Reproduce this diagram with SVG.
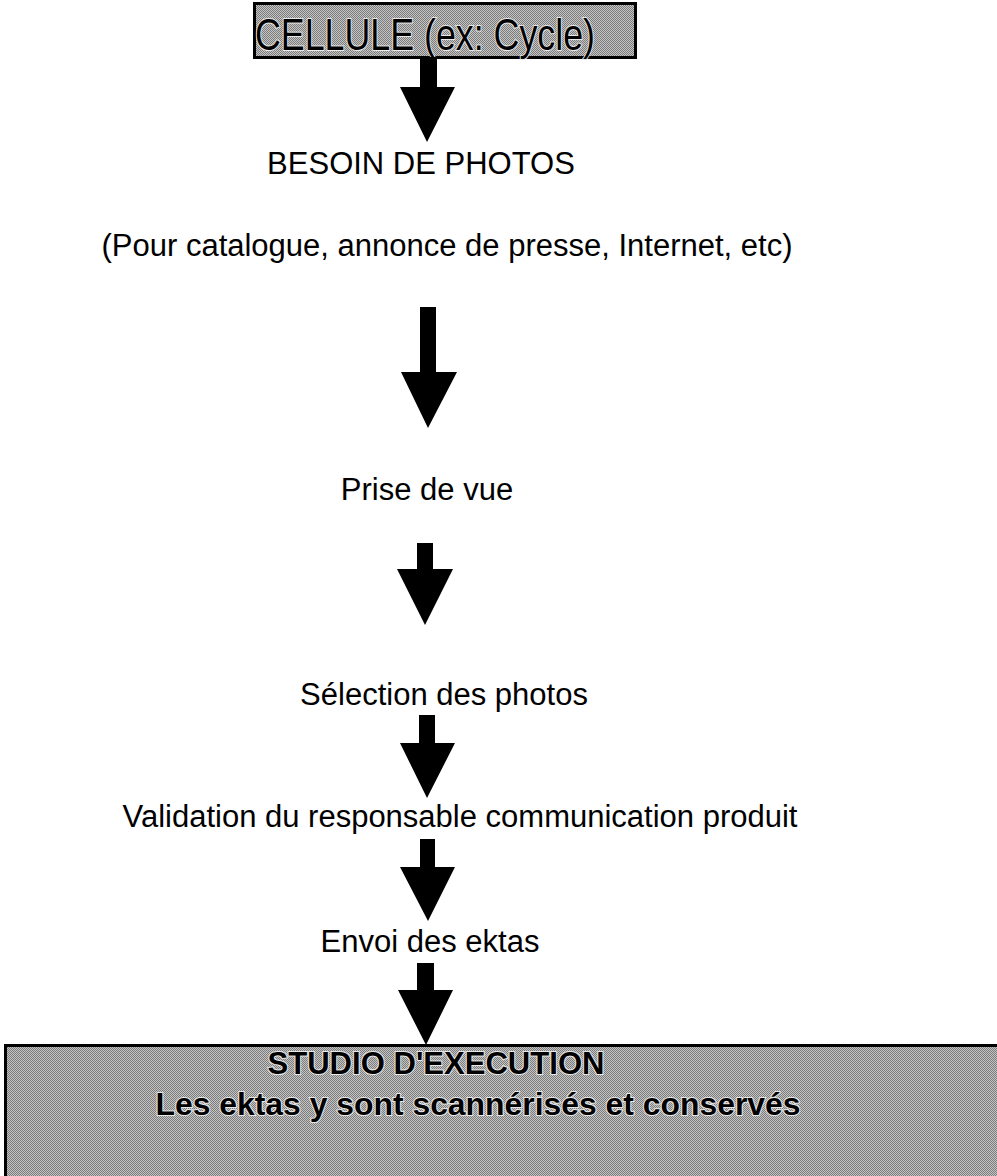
<svg xmlns="http://www.w3.org/2000/svg" width="997" height="1176" viewBox="0 0 997 1176">
<defs>
<pattern id="dither" width="2" height="2" patternUnits="userSpaceOnUse">
<rect width="2" height="2" fill="#c4c4c4"/>
<rect width="1" height="1" fill="#7c7c7c"/>
<rect x="1" y="1" width="1" height="1" fill="#7c7c7c"/>
</pattern>
</defs>
<style>
.lbl{font-family:"Liberation Sans",Arial,sans-serif;font-size:31px;fill:#000;text-anchor:middle}
.box{fill:url(#dither);stroke:#000;stroke-width:3}
.boxt{font-family:"Liberation Sans",Arial,sans-serif;fill:#000;stroke:#e8e8e8;stroke-width:2;paint-order:stroke;text-anchor:middle}
.b{font-weight:bold}
.arr{fill:#000}
</style>
<g id="cellule">
<rect class="box" x="254.5" y="3.5" width="381" height="54"/>
<text class="boxt" x="425" y="50" font-size="44" textLength="340" lengthAdjust="spacingAndGlyphs">CELLULE (ex: Cycle)</text>
</g>
<g id="besoin"><text class="lbl" x="421" y="174">BESOIN DE PHOTOS</text></g>
<g id="pour"><text class="lbl" x="447" y="256">(Pour catalogue, annonce de presse, Internet, etc)</text></g>
<g id="prise"><text class="lbl" x="427" y="500">Prise de vue</text></g>
<g id="selection"><text class="lbl" x="444" y="705">Sélection des photos</text></g>
<g id="validation"><text class="lbl" x="460" y="827">Validation du responsable communication produit</text></g>
<g id="envoi"><text class="lbl" x="430" y="952">Envoi des ektas</text></g>
<g id="studio">
<rect class="box" x="5.5" y="1045.5" width="993" height="133"/>
<text class="boxt b" x="436" y="1074" font-size="31" textLength="337" lengthAdjust="spacingAndGlyphs">STUDIO D'EXECUTION</text>
<text class="boxt b" x="478" y="1115" font-size="31" textLength="645" lengthAdjust="spacingAndGlyphs">Les ektas y sont scannérisés et conservés</text>
</g>
<g id="connectors">
<polygon class="arr" points="420,57 437,57 437,87 455,87 427,142 400,87 420,87"/>
<polygon class="arr" points="420,307 436,307 436,372 457,372 428,428 401,372 420,372"/>
<polygon class="arr" points="417,543 433,543 433,569 453,569 425,625 397,569 417,569"/>
<polygon class="arr" points="419,715 435,715 435,743 455,743 427,798 400,743 419,743"/>
<polygon class="arr" points="420,839 435,839 435,867 455,867 428,921 400,867 420,867"/>
<polygon class="arr" points="417,963 434,963 434,990 453,990 426,1045 398,990 417,990"/>
</g>
</svg>
